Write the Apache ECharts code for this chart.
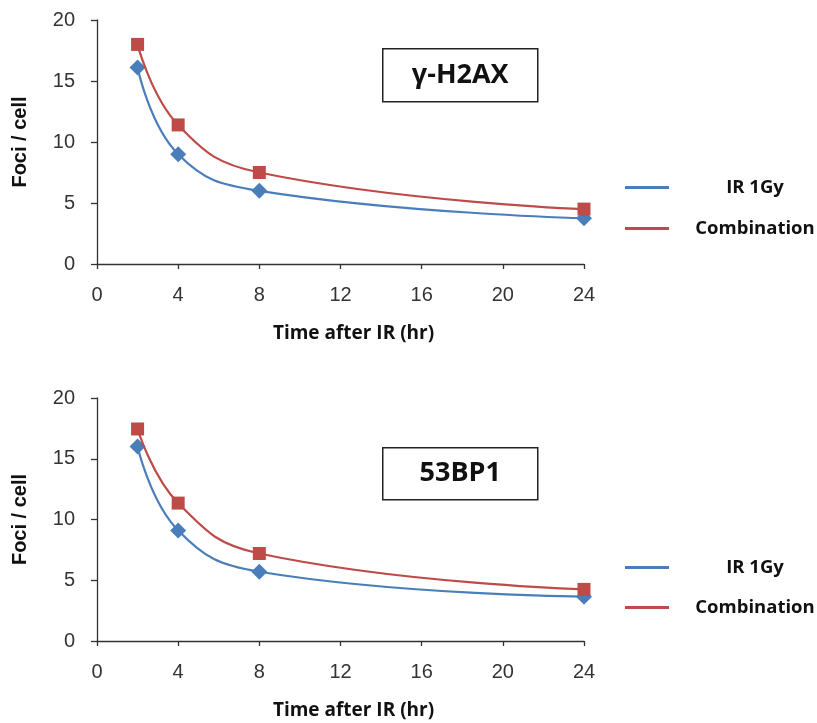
<!DOCTYPE html>
<html><head><meta charset="utf-8">
<script src="https://cdn.jsdelivr.net/npm/echarts@6/dist/echarts.min.js"></script>
<style>html,body{margin:0;padding:0;background:#fff}#c{width:817px;height:723px}</style>
</head><body><div id="c"></div>
<script>
const hours = [2, 4, 8, 24];
const h2axIR = [16.1, 9.0, 6.0, 3.75];
const h2axCombo = [18.0, 11.4, 7.5, 4.5];
const bp1IR = [16.0, 9.1, 5.7, 3.65];
const bp1Combo = [17.45, 11.35, 7.2, 4.25];
const xTicks = [0, 4, 8, 12, 16, 20, 24];
const yTicks = [0, 5, 10, 15, 20];
const panelTitles = ['γ-H2AX', '53BP1'];
const seriesNames = ['IR 1Gy', 'Combination'];
const xName = 'Time after IR (hr)';
const yName = 'Foci / cell';

const BLUE = '#4A7EBB', RED = '#BE4B48';
const chart = echarts.init(document.getElementById('c'));
const pair = (xs, ys) => xs.map((x, i) => [x, ys[i]]);

const axisLine = {lineStyle: {color: '#333', width: 1.3}};
const grids = [
  {left: 97, right: 233, top: 20, height: 244},
  {left: 97, right: 233, top: 398, height: 243}
];
function xAxis(gi) {
  return {type: 'value', gridIndex: gi, min: xTicks[0], max: xTicks[xTicks.length-1], interval: 4,
    axisLine: axisLine, axisTick: {show: true, length: 5, lineStyle: {color: '#333', width: 1.3}},
    splitLine: {show: false},
    axisLabel: {fontFamily: 'Liberation Sans', fontSize: 20, color: '#333', margin: 21},
    name: xName, nameLocation: 'middle', nameGap: 60,
    nameTextStyle: {fontFamily: 'Open Sans', fontWeight: 'bold', fontSize: 19, color: '#111', padding: [0, 0, 0, 26]}};
}
function yAxis(gi) {
  return {type: 'value', gridIndex: gi, min: yTicks[0], max: yTicks[yTicks.length-1], interval: 5,
    axisLine: {show: true, lineStyle: {color: '#333', width: 1.3}},
    axisTick: {show: true, length: 6, lineStyle: {color: '#333', width: 1.3}},
    splitLine: {show: false},
    axisLabel: {fontFamily: 'Liberation Sans', fontSize: 20, color: '#333', margin: 22},
    name: yName, nameLocation: 'middle', nameGap: 67, nameRotate: 90,
    nameTextStyle: {fontFamily: 'Liberation Sans', fontWeight: 'bold', fontSize: 20, color: '#111'}};
}
function line(name, gi, data, color, symbol, size) {
  return {name: name, type: 'line', xAxisIndex: gi, yAxisIndex: gi, data: data,
    smooth: 0.45, symbol: symbol, symbolSize: size, showSymbol: true,
    lineStyle: {color: color, width: 2.2}, itemStyle: {color: color}, z: symbol === 'rect' ? 3 : 2};
}
function legend(top, gap) {
  return {orient: 'vertical', left: 625, top: top, itemGap: gap, icon: 'rect',
    itemWidth: 44, itemHeight: 3, padding: 0,
    data: [{name: seriesNames[0], itemStyle: {color: BLUE}}, {name: seriesNames[1], itemStyle: {color: RED}}],
    formatter: n => '{t|' + n + '}',
    textStyle: {rich: {t: {width: 162, align: 'center', fontFamily: 'Open Sans', fontWeight: 'bold', fontSize: 18.5, color: '#111'}}}};
}
function box(x, y, w, h, text) {
  return {type: 'group', left: x, top: y, children: [
    {type: 'rect', shape: {x: 0, y: 0, width: w, height: h}, style: {fill: '#fff', stroke: '#222', lineWidth: 1.5}},
    {type: 'text', x: w/2, y: h/2, style: {text: text, fontFamily: 'Open Sans', fontWeight: 'bold', fontSize: 27, fill: '#111', textAlign: 'center', textVerticalAlign: 'middle'}}
  ]};
}
chart.setOption({
  animation: false,
  grid: grids,
  xAxis: [xAxis(0), xAxis(1)],
  yAxis: [yAxis(0), yAxis(1)],
  legend: [legend(178, 22), legend(558, 21)],
  series: [
    line(seriesNames[0], 0, pair(hours, h2axIR), BLUE, 'diamond', 16),
    line(seriesNames[1], 0, pair(hours, h2axCombo), RED, 'rect', 13),
    line(seriesNames[0], 1, pair(hours, bp1IR), BLUE, 'diamond', 16),
    line(seriesNames[1], 1, pair(hours, bp1Combo), RED, 'rect', 13)
  ],
  graphic: [box(382, 48, 155, 53, panelTitles[0]), box(382, 447, 155, 52, panelTitles[1])]
});
</script></body></html>
